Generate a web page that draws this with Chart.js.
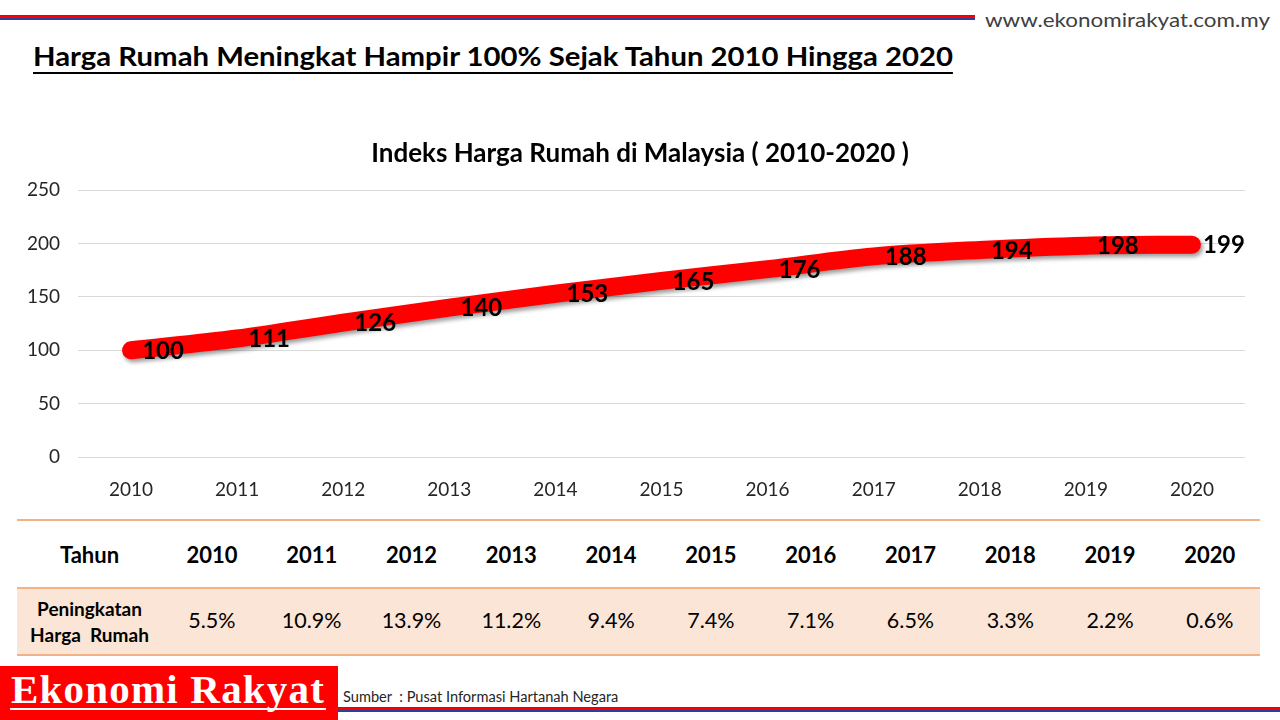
<!DOCTYPE html>
<html>
<head>
<meta charset="utf-8">
<script src="https://cdn.jsdelivr.net/npm/chart.js@4.4.1/dist/chart.umd.min.js"></script>
<style>
  body { margin: 0; width: 1280px; height: 720px; background: #fff; position: relative; overflow: hidden; font-family: Lato, "Open Sans", sans-serif; }
  .abs { position: absolute; }
  .rule { background: #ff0000; border-top: 1px solid #2f3f9f; border-bottom: 2px solid #2f3f9f; height: 2px; }
  #headline { left: 33px; top: 40px; font-size: 26px; font-weight: bold; color: #000; white-space: nowrap; border-bottom: 2px solid #000; line-height: 32px; transform-origin: left top; }
  #url { left: 985px; top: 8px; font-size: 19px; color: #404040; white-space: nowrap; transform-origin: left top; }
  #chartBox { left: 0; top: 130px; width: 1280px; height: 380px; }
  #tbl { left: 17px; top: 519px; width: 1243px; }
  .row { display: flex; align-items: center; }
  .row div { text-align: center; }
  #r1 { height: 66px; border-top: 2px solid #f4b183; font-weight: bold; font-size: 22px; color: #000; }
  #r2 { height: 65px; border-top: 2px solid #f4b183; border-bottom: 2px solid #f4b183; background: #fbe5d6; font-size: 21.5px; color: #000; }
  #r2 .cell { padding-bottom: 4px; }
  .first { width: 145px; }
  .cell { width: 99.8px; }
  #r2 .first { font-weight: bold; font-size: 19px; line-height: 26px; }
  #logo { left: 0; top: 666px; width: 338px; height: 54px; background: #ff0000; }
  #logoText { left: 11px; top: 3px; color: #fff; font-family: "Liberation Serif", "DejaVu Serif", serif; font-size: 41px; font-weight: bold; letter-spacing: 1.2px; white-space: nowrap; line-height: 40px; }
  #logoLine { left: 10px; top: 42px; width: 316px; height: 2px; background: #fff; }
  #source { left: 343px; top: 688px; font-size: 14.6px; color: #262626; white-space: nowrap; }
</style>
</head>
<body>
<div class="abs rule" style="left:0; top:15px; width:975px;"></div>
<div class="abs" id="url">www.ekonomirakyat.com.my</div>
<div class="abs" id="headline">Harga Rumah Meningkat Hampir 100% Sejak Tahun 2010 Hingga 2020</div>

<div class="abs" id="chartBox"><canvas id="c"></canvas></div>

<div class="abs" id="tbl">
  <div class="row" id="r1"></div>
  <div class="row" id="r2"></div>
</div>

<div class="abs" id="logo">
  <div class="abs" id="logoText">Ekonomi Rakyat</div>
  <div class="abs" id="logoLine"></div>
</div>
<div class="abs" id="source">Sumber &nbsp;: Pusat Informasi Hartanah Negara</div>
<div class="abs rule" style="left:338px; top:707px; width:942px;"></div>

<script>
const years = ['2010', '2011', '2012', '2013', '2014', '2015', '2016', '2017', '2018', '2019', '2020'];
const hpi = [100, 111, 126, 140, 153, 165, 176, 188, 194, 198, 199];
const increasePct = ['5.5%', '10.9%', '13.9%', '11.2%', '9.4%', '7.4%', '7.1%', '6.5%', '3.3%', '2.2%', '0.6%'];
const yTicks = [0, 50, 100, 150, 200, 250];

// squeeze a text block to the width it has in the picture
function fitWidth(id, target) {
  const el = document.getElementById(id);
  const w = el.getBoundingClientRect().width;
  el.style.transform = 'scaleX(' + (target / w) + ')';
}
fitWidth('headline', 920);
fitWidth('url', 285);

// table under the chart
const r1 = document.getElementById('r1');
const r2 = document.getElementById('r2');
r1.innerHTML = '<div class="first">Tahun</div>' + years.map(y => '<div class="cell">' + y + '</div>').join('');
r2.innerHTML = '<div class="first">Peningkatan<br>Harga&nbsp; Rumah</div>' + increasePct.map(p => '<div class="cell">' + p + '</div>').join('');

const shadow = {
  id: 'shadow',
  beforeDatasetsDraw(chart) {
    const ctx = chart.ctx;
    ctx.save();
    ctx.shadowColor = 'rgba(0,0,0,0.4)';
    ctx.shadowBlur = 4;
    ctx.shadowOffsetX = 2;
    ctx.shadowOffsetY = 3;
  },
  afterDatasetsDraw(chart) {
    chart.ctx.restore();
  }
};

const valueLabels = {
  id: 'valueLabels',
  afterDraw(chart) {
    const ctx = chart.ctx;
    const meta = chart.getDatasetMeta(0);
    ctx.save();
    ctx.font = 'bold 24px Lato, sans-serif';
    ctx.fillStyle = '#000';
    ctx.textAlign = 'center';
    ctx.textBaseline = 'middle';
    meta.data.forEach((pt, i) => {
      ctx.fillText(String(hpi[i]), pt.x + 32, pt.y + 1);
    });
    ctx.restore();
  }
};

new Chart(document.getElementById('c'), {
  type: 'line',
  data: {
    labels: years,
    datasets: [{
      data: hpi,
      borderColor: '#ff0000',
      borderWidth: 18,
      borderCapStyle: 'round',
      borderJoinStyle: 'round',
      cubicInterpolationMode: 'monotone',
      pointRadius: 0,
      fill: false
    }]
  },
  options: {
    responsive: true,
    maintainAspectRatio: false,
    animation: false,
    layout: { padding: 0 },
    plugins: {
      legend: { display: false },
      tooltip: { enabled: false },
      title: {
        display: true,
        text: 'Indeks Harga Rumah di Malaysia ( 2010-2020 )',
        color: '#000',
        font: { family: 'Lato, sans-serif', size: 26, weight: 'bold' },
        padding: { top: 8, bottom: 21 }
      }
    },
    scales: {
      x: {
        offset: true,
        grid: { display: false, drawTicks: false },
        border: { display: false },
        ticks: { color: '#262626', font: { family: 'Lato, sans-serif', size: 19 }, padding: 21, maxRotation: 0 },
        afterFit(s) { s.height = 53; }
      },
      y: {
        min: 0,
        max: 250,
        afterBuildTicks(s) { s.ticks = yTicks.map(v => ({ value: v })); },
        grid: { color: '#d9d9d9', lineWidth: 1, drawTicks: false },
        border: { display: false },
        ticks: { color: '#262626', font: { family: 'Lato, sans-serif', size: 19 }, padding: 18 },
        afterFit(s) { s.width = 78; }
      },
      // empty right margin so the title centres on the page
      yRight: {
        position: 'right',
        min: 0,
        max: 250,
        grid: { display: false, drawTicks: false },
        border: { display: false },
        ticks: { display: false },
        afterFit(s) { s.width = 35; }
      }
    }
  },
  plugins: [shadow, valueLabels]
});
</script>
</body>
</html>
